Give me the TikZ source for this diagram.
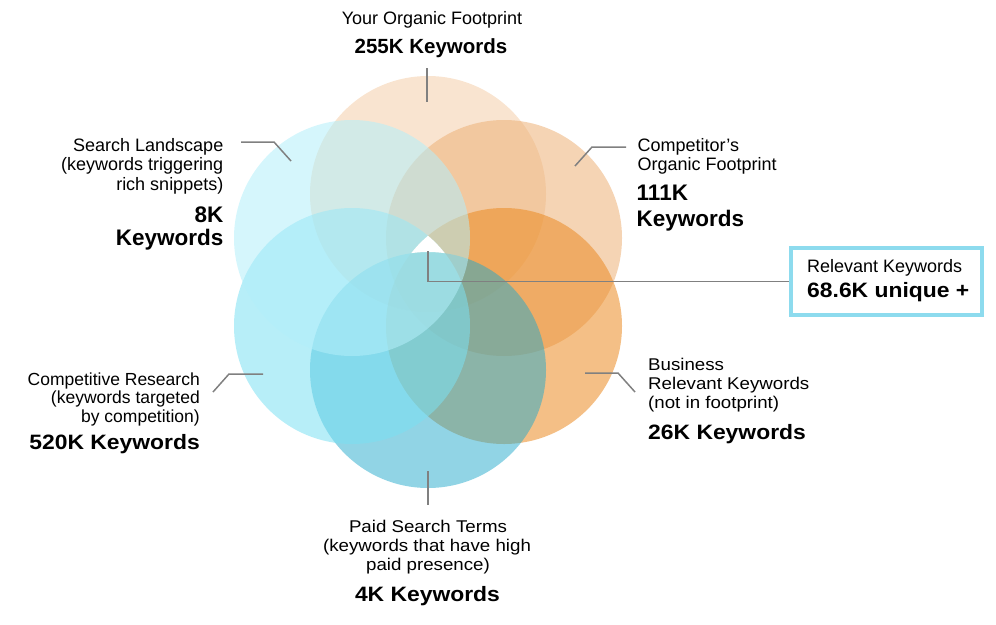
\documentclass[tikz,border=0pt]{standalone}
\usepackage{fontspec}
\setmainfont{Liberation Sans}
\newfontfamily\widesans[FakeStretch=1.1]{Liberation Sans}
\definecolor{cTop}{RGB}{244,206,170}
\definecolor{cUR}{RGB}{237,177,119}
\definecolor{cLR}{RGB}{235,139,35}
\definecolor{cBot}{RGB}{35,169,203}
\definecolor{cLL}{RGB}{124,224,242}
\definecolor{cUL}{RGB}{179,239,250}
\definecolor{boxc}{RGB}{141,219,238}
\definecolor{lead}{RGB}{128,128,128}
\tikzset{
  reg/.style={font=\fontsize{18}{20}\selectfont, inner sep=0pt, text=black},
  regs/.style={font=\fontsize{17.5}{20}\selectfont, inner sep=0pt, text=black},
  wreg/.style={font=\widesans\fontsize{17}{20}\selectfont, inner sep=0pt, text=black},
  bld/.style={font=\fontsize{20.5}{22}\selectfont\bfseries, inner sep=0pt, text=black},
  bldl/.style={font=\fontsize{22.5}{24}\selectfont\bfseries, inner sep=0pt, text=black},
  wbld/.style={font=\widesans\fontsize{20.8}{22}\selectfont\bfseries, inner sep=0pt, text=black},
  petal/.style={circle, minimum size=236pt, inner sep=0pt, draw=none, fill opacity=0.55},
  leader/.style={draw=lead, line width=1.5pt}
}
\begin{document}
\begin{tikzpicture}[x=1pt,y=-1pt]
\useasboundingbox (0,0) rectangle (996,624);
% petals, stacked clockwise from the top
\node[petal, fill=cTop] (pTop) at (428,194) {};
\node[petal, fill=cUR] (pUR) at (504,238) {};
\node[petal, fill=cLR] (pLR) at (504,326) {};
\node[petal, fill=cBot, fill opacity=0.5] (pBot) at (428,370) {};
\node[petal, fill=cLL] (pLL) at (352,326) {};
\node[petal, fill=cUL] (pUL) at (352,238) {};
% white gap
\begin{scope}
  \clip (352,326) circle (118);
  \clip (504,326) circle (118);
  \fill[white, even odd rule] (0,0) rectangle (996,624) (428,370) circle (118);
\end{scope}
% relevant keywords box
\node[draw=boxc, line width=4pt, minimum width=191pt, minimum height=67pt, inner sep=0pt] (rel) at (886.5,281.5) {};
\node[reg, anchor=base west] (rel1) at (807,272.7) {Relevant Keywords};
\node[wbld, anchor=base west] (rel2) at (807,297.3) {68.6K unique +};
% top label
\node[reg, anchor=base] (top1) at (432,24.5) {Your Organic Footprint};
\node[bld, anchor=base] (top2) at (431,53) {255K Keywords};
% search landscape
\node[reg, anchor=base east] (sl1) at (223.5,151.7) {Search Landscape};
\node[reg, anchor=base east] (sl2) at (223.5,170.7) {(keywords triggering};
\node[reg, anchor=base east] (sl3) at (223.5,190) {rich snippets)};
\node[bldl, anchor=base east] (sl4) at (223.5,222) {8K};
\node[bldl, anchor=base east] (sl5) at (223.5,245.5) {Keywords};
% competitor
\node[reg, anchor=base west] (co1) at (637.5,151.7) {Competitor’s};
\node[reg, anchor=base west] (co2) at (637.5,170.7) {Organic Footprint};
\node[bldl, anchor=base west] (co3) at (636.5,200.7) {111K};
\node[bldl, anchor=base west] (co4) at (636.5,226) {Keywords};
% competitive research
\node[regs, anchor=base east] (cr1) at (200,385) {Competitive Research};
\node[regs, anchor=base east] (cr2) at (200,403.3) {(keywords targeted};
\node[regs, anchor=base east] (cr3) at (200,422.7) {by competition)};
\node[wbld, anchor=base east] (cr4) at (200,449.3) {520K Keywords};
% business relevant
\node[wreg, anchor=base west] (br1) at (648,370.7) {Business};
\node[wreg, anchor=base west] (br2) at (648,389.3) {Relevant Keywords};
\node[wreg, anchor=base west] (br3) at (648,408.3) {(not in footprint)};
\node[wbld, anchor=base west] (br4) at (648,439.3) {26K Keywords};
% paid search
\node[wreg, anchor=base] (ps1) at (428,532.7) {Paid Search Terms};
\node[wreg, anchor=base] (ps2) at (427,551.7) {(keywords that have high};
\node[wreg, anchor=base] (ps3) at (428,570) {paid presence)};
\node[wbld, anchor=base] (ps4) at (427.5,601.7) {4K Keywords};
% leader coordinates
\coordinate (tA) at (427,68);  \coordinate (tB) at (427,102);
\coordinate (cA) at (428,251);
\coordinate (bA) at (428,471); \coordinate (bB) at (428,505);
\coordinate (slA) at (241,142); \coordinate (slB) at (274,142); \coordinate (slC) at (291,161);
\coordinate (coA) at (626,147); \coordinate (coB) at (592,147); \coordinate (coC) at (575,166);
\coordinate (brA) at (585,373); \coordinate (brB) at (618,373); \coordinate (brC) at (635,392);
\coordinate (crA) at (263,374); \coordinate (crB) at (229,374); \coordinate (crC) at (213,392);
% leaders
\draw[leader] (tA) -- (tB);
\draw[leader] (cA) |- (rel.west);
\draw[leader] (bA) -- (bB);
\draw[leader] (slA) -- (slB) -- (slC);
\draw[leader] (coA) -- (coB) -- (coC);
\draw[leader] (brA) -- (brB) -- (brC);
\draw[leader] (crA) -- (crB) -- (crC);
\end{tikzpicture}
\end{document}
